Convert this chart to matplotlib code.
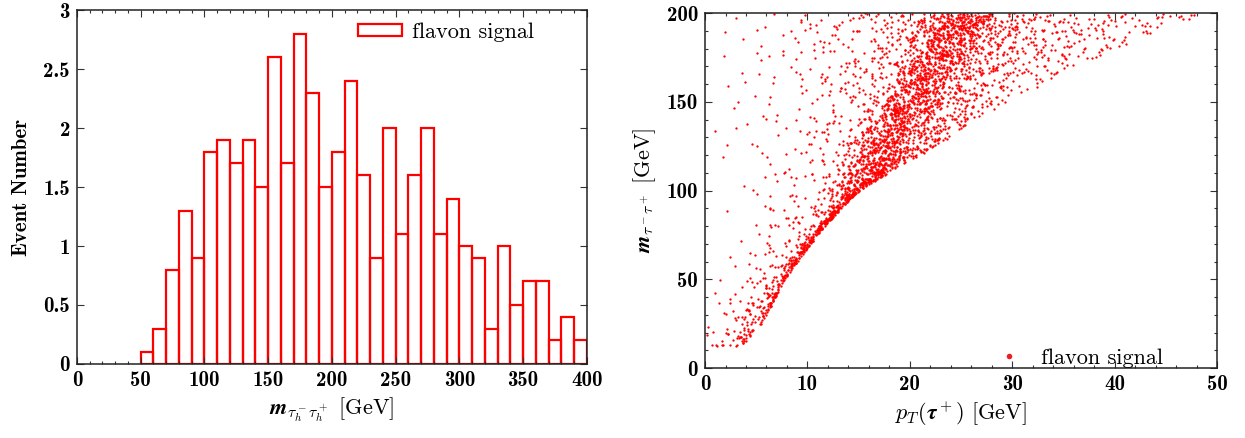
import numpy as np
import matplotlib
matplotlib.use("Agg")
import matplotlib.pyplot as plt
from matplotlib.ticker import MultipleLocator, FuncFormatter
from matplotlib.lines import Line2D
from matplotlib.patches import Rectangle
from matplotlib.mathtext import MathTextParser

plt.rcParams["mathtext.fontset"] = "cm"
plt.rcParams["axes.unicode_minus"] = False

# ---------------- histogram data (left panel) ----------------
hist_bin_left = list(range(50, 400, 10))
hist_counts = [0.1, 0.3, 0.8, 1.3, 0.9, 1.8, 1.9, 1.7, 1.9, 1.5,
               2.6, 1.7, 2.8, 2.3, 1.5, 1.8, 2.4, 1.6, 0.9, 2.0,
               1.1, 1.6, 2.0, 1.1, 1.4, 1.0, 0.9, 0.3, 1.0, 0.5,
               0.7, 0.7, 0.2, 0.4, 0.2]
hist_bin_width = 10
hist_yticks = [0, 0.5, 1, 1.5, 2, 2.5, 3]
hist_xticks = [0, 50, 100, 150, 200, 250, 300, 350, 400]

# ---------------- scatter data (right panel) ----------------
# lower kinematic edge of the point cloud
edge_pt = [0.0, 3.0, 4.0, 5.0, 6.0, 7.3, 8.5, 9.9, 11.2, 12.5, 13.8, 15.2,
           18.5, 22.0, 24.9, 27.9, 30.8, 34.4, 39.3, 43.2, 49.0, 50.0]
edge_m = [12, 12, 15, 21, 30, 45, 56, 67, 77, 85, 93, 100.5,
          112, 123, 134, 144, 154, 164, 177.5, 188, 199, 201]

# counts of points in cells: columns of 2 GeV in pT, rows of 10 GeV in m (0-10 ... 190-200)
col_width = 2.0
row_height = 10.0
counts_c00 = [0, 7, 2, 1, 1, 0, 0, 0, 0, 0, 0, 0, 0, 1, 0, 0, 0, 0, 1, 0]
counts_c01 = [0, 18, 8, 4, 2, 1, 1, 0, 1, 0, 1, 1, 1, 1, 1, 2, 1, 1, 1, 1]
counts_c02 = [0, 8, 20, 20, 6, 3, 3, 2, 2, 2, 1, 1, 2, 1, 2, 1, 2, 2, 1, 1]
counts_c03 = [0, 0, 2, 14, 25, 16, 8, 5, 4, 3, 3, 2, 2, 2, 2, 2, 2, 2, 2, 2]
counts_c04 = [0, 0, 0, 0, 0, 14, 20, 10, 6, 4, 4, 3, 3, 3, 3, 3, 3, 3, 3, 3]
counts_c05 = [0, 0, 0, 0, 0, 0, 8, 22, 18, 9, 6, 5, 5, 4, 4, 4, 4, 4, 4, 4]
counts_c06 = [0, 0, 0, 0, 0, 0, 0, 0, 25, 32, 22, 12, 8, 7, 6, 6, 6, 5, 6, 6]
counts_c07 = [0, 0, 0, 0, 0, 0, 0, 0, 0, 30, 70, 45, 20, 12, 10, 9, 8, 8, 8, 8]
counts_c08 = [0, 0, 0, 0, 0, 0, 0, 0, 0, 0, 40, 100, 100, 45, 22, 14, 12, 10, 10, 10]
counts_c09 = [0, 0, 0, 0, 0, 0, 0, 0, 0, 0, 0, 35, 50, 90, 100, 50, 25, 16, 14, 14]
counts_c10 = [0, 0, 0, 0, 0, 0, 0, 0, 0, 0, 0, 8, 25, 35, 50, 85, 90, 50, 30, 24]
counts_c11 = [0, 0, 0, 0, 0, 0, 0, 0, 0, 0, 0, 0, 15, 25, 30, 35, 55, 85, 80, 50]
counts_c12 = [0, 0, 0, 0, 0, 0, 0, 0, 0, 0, 0, 0, 0, 15, 20, 25, 28, 40, 70, 90]
counts_c13 = [0, 0, 0, 0, 0, 0, 0, 0, 0, 0, 0, 0, 0, 0, 10, 15, 20, 25, 35, 65]
counts_c14 = [0, 0, 0, 0, 0, 0, 0, 0, 0, 0, 0, 0, 0, 0, 5, 10, 14, 18, 22, 26]
counts_c15 = [0, 0, 0, 0, 0, 0, 0, 0, 0, 0, 0, 0, 0, 0, 0, 6, 10, 12, 14, 16]
counts_c16 = [0, 0, 0, 0, 0, 0, 0, 0, 0, 0, 0, 0, 0, 0, 0, 1, 8, 10, 12, 13]
counts_c17 = [0, 0, 0, 0, 0, 0, 0, 0, 0, 0, 0, 0, 0, 0, 0, 0, 5, 9, 10, 12]
counts_c18 = [0, 0, 0, 0, 0, 0, 0, 0, 0, 0, 0, 0, 0, 0, 0, 0, 1, 7, 9, 10]
counts_c19 = [0, 0, 0, 0, 0, 0, 0, 0, 0, 0, 0, 0, 0, 0, 0, 0, 0, 5, 8, 9]
counts_c20 = [0, 0, 0, 0, 0, 0, 0, 0, 0, 0, 0, 0, 0, 0, 0, 0, 0, 0, 5, 7]
counts_c21 = [0, 0, 0, 0, 0, 0, 0, 0, 0, 0, 0, 0, 0, 0, 0, 0, 0, 0, 4, 6]
counts_c22 = [0, 0, 0, 0, 0, 0, 0, 0, 0, 0, 0, 0, 0, 0, 0, 0, 0, 0, 1, 6]
counts_c23 = [0, 0, 0, 0, 0, 0, 0, 0, 0, 0, 0, 0, 0, 0, 0, 0, 0, 0, 0, 4]
counts_c24 = [0, 0, 0, 0, 0, 0, 0, 0, 0, 0, 0, 0, 0, 0, 0, 0, 0, 0, 0, 1]
cell_counts = [counts_c00, counts_c01, counts_c02, counts_c03, counts_c04,
               counts_c05, counts_c06, counts_c07, counts_c08, counts_c09,
               counts_c10, counts_c11, counts_c12, counts_c13, counts_c14,
               counts_c15, counts_c16, counts_c17, counts_c18, counts_c19,
               counts_c20, counts_c21, counts_c22, counts_c23, counts_c24]
# points hugging the edge (thin ridge), per 2 GeV column
ridge_counts = [0, 0, 10, 40, 50, 60, 55, 40, 12, 0, 0, 0, 0,
                0, 0, 0, 0, 0, 0, 0, 0, 0, 0, 0, 0]
ridge_width = 4.0


# ---------------- place the counted points inside their cells ----------------
def edge(x):
    return np.interp(x, edge_pt, edge_m)


def hsh(a):
    return np.modf(np.abs(np.sin(a) * 43758.5453123))[0]


def fill_cell(c, r, n):
    xc = (c + 0.5) * col_width
    yc = (r + 0.5) * row_height
    xs, ys = [], []
    k = 0
    while len(xs) < n and k < 400 * n + 400:
        k += 1
        base = c * 37.719 + r * 11.131 + k * 0.7548776662
        u = hsh(base * 12.9898) + hsh(base * 4.1414) - 1.0
        v = hsh(base * 78.233) + hsh(base * 26.651) - 1.0
        x = xc + u * col_width * 0.9
        y = yc + v * row_height * 0.9
        if 0 < x < 50 and 0 < y < 200 and y >= edge(x):
            xs.append(x)
            ys.append(y)
    return xs, ys


px, py = [], []
for c, col in enumerate(cell_counts):
    for r, n in enumerate(col):
        if n:
            xs, ys = fill_cell(c, r, n)
            px += xs
            py += ys
    nr = ridge_counts[c]
    for k in range(1, nr + 1):
        base = c * 53.17 + k * 0.5698402910
        x = (c + hsh(base * 91.7)) * col_width
        v = hsh(base * 33.3) ** 1.4
        px.append(x)
        py.append(edge(x) + v * ridge_width)

px = np.array(px)
py = np.array(py)

# ---------------- figure ----------------
RED = "#ff0000"
TICKFAM = "cmb10"
TICKSIZE = 15
LABSIZE = 16

# bold math if the parser supports it
try:
    MathTextParser("agg").parse(r"$\boldsymbol{m}$", 72)
    BM = r"\boldsymbol"
except Exception:
    BM = ""


def bm(s):
    return BM + "{" + s + "}" if BM else s


fig = plt.figure(figsize=(12.45, 4.38), dpi=100)
ax1 = fig.add_axes([0.0618, 0.169, 0.4096, 0.808])
ax2 = fig.add_axes([0.5663, 0.1598, 0.4112, 0.8105])


def style_axes(ax):
    for s in ax.spines.values():
        s.set_linewidth(1.1)
        s.set_color("#222222")
    ax.tick_params(which="both", direction="in", top=True, right=True,
                   color="#333333", width=0.8)
    ax.tick_params(which="major", length=5, pad=5)
    ax.tick_params(which="minor", length=2.5)
    for lab in ax.get_xticklabels() + ax.get_yticklabels():
        lab.set_fontfamily(TICKFAM)
        lab.set_fontsize(TICKSIZE)


fmt = FuncFormatter(lambda v, p: "%g" % v)

# left: histogram
ax1.bar(hist_bin_left, hist_counts, width=hist_bin_width, align="edge",
        fill=False, edgecolor=RED, linewidth=1.6)
ax1.set_xlim(0, 400)
ax1.set_ylim(0, 3)
ax1.set_xticks(hist_xticks)
ax1.set_yticks(hist_yticks)
ax1.xaxis.set_minor_locator(MultipleLocator(10))
ax1.xaxis.set_major_formatter(fmt)
ax1.yaxis.set_major_formatter(fmt)
style_axes(ax1)
ax1.set_ylabel("Event Number", family="cmb10", fontsize=TICKSIZE, labelpad=9)
ax1.set_xlabel(r"$" + bm("m") + r"_{" + bm(r"\tau_h^-\tau_h^+") + r"}$ [GeV]",
               family="cmr10", fontsize=LABSIZE, labelpad=4)
h1 = Rectangle((0, 0), 1, 1, fill=False, edgecolor=RED, linewidth=1.6)
ax1.legend([h1], ["flavon signal"], loc="upper left", frameon=False,
           prop=dict(family="cmr10", size=LABSIZE), handlelength=2.0,
           handleheight=0.45, handletextpad=0.45, borderpad=0,
           borderaxespad=0, bbox_to_anchor=(0.551, 0.965))

# right: scatter
ax2.scatter(px, py, s=2.8, c=RED, marker="o", linewidths=0)
ax2.set_xlim(0, 50)
ax2.set_ylim(0, 200)
ax2.xaxis.set_major_locator(MultipleLocator(10))
ax2.xaxis.set_minor_locator(MultipleLocator(2))
ax2.yaxis.set_major_locator(MultipleLocator(50))
ax2.yaxis.set_minor_locator(MultipleLocator(10))
ax2.xaxis.set_major_formatter(fmt)
ax2.yaxis.set_major_formatter(fmt)
style_axes(ax2)
ax2.set_ylabel(r"$" + bm("m") + r"_{" + bm(r"\tau^-\tau^+") + r"}$ [GeV]",
               family="cmr10", fontsize=LABSIZE, labelpad=6)
ax2.set_xlabel(r"$" + bm(r"p_T") + r"(" + bm(r"\tau") + r"^+)$ [GeV]",
               family="cmr10", fontsize=LABSIZE, labelpad=4)
h2 = Line2D([], [], linestyle="none", marker="o", markersize=4,
            color="#e82020", markeredgewidth=0)
ax2.legend([h2], ["flavon signal"], loc="lower left", frameon=False,
           prop=dict(family="cmr10", size=LABSIZE), handlelength=1.0,
           handletextpad=0.95, borderpad=0, borderaxespad=0,
           bbox_to_anchor=(0.572, 0.0))

fig.savefig("out.png", dpi=100)
